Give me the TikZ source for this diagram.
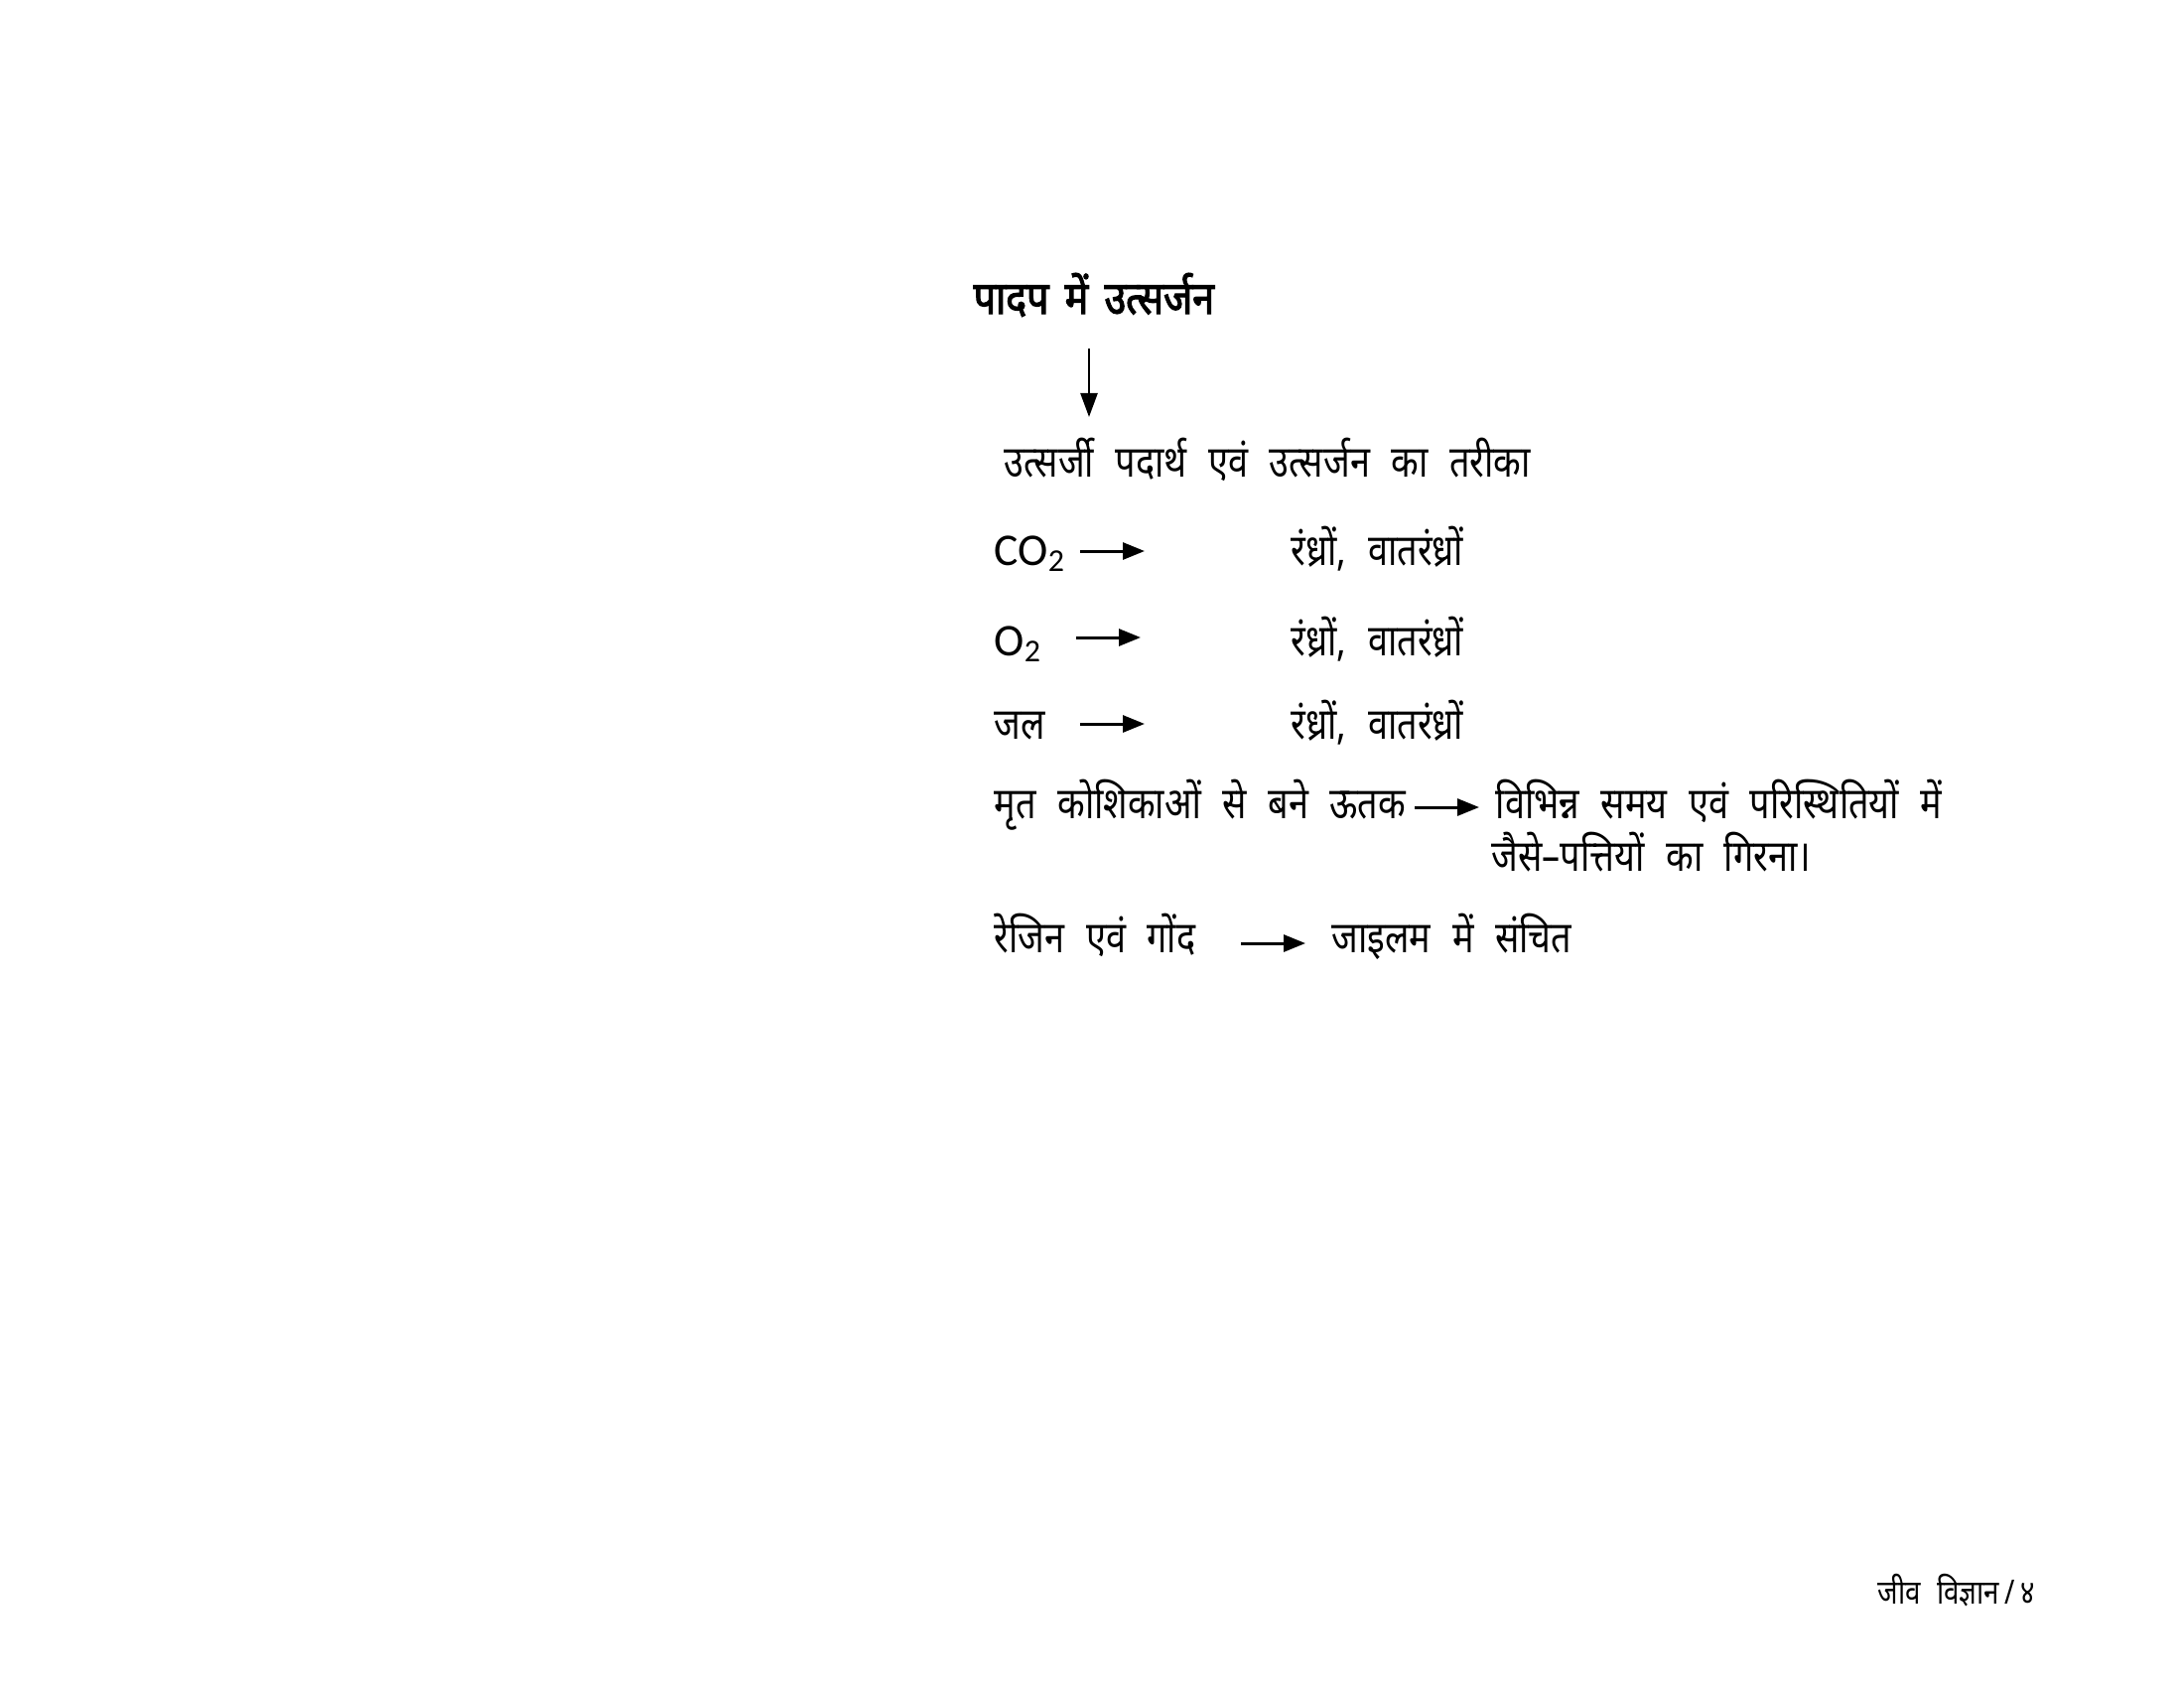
\documentclass[tikz,border=0pt]{standalone}
\usepackage{fontspec}
\usetikzlibrary{arrows.meta}
\newfontfamily\hindi[Script=Devanagari,FakeStretch=0.82,WordSpace=2.3]{Noto Sans}
\newfontfamily\hindib[Script=Devanagari,FakeStretch=0.86,FakeBold=2.5,WordSpace=1.6]{Noto Sans}
\newfontfamily\latinf{Carlito}
\begin{document}
\begin{tikzpicture}[x=0.01cm,y=-0.01cm,
  txt/.style={anchor=base west,inner sep=0pt,font=\hindi\fontsize{12.5pt}{15pt}\selectfont},
  ttl/.style={anchor=base west,inner sep=0pt,font=\hindib\fontsize{13pt}{15pt}\selectfont},
  lat/.style={anchor=base west,inner sep=0pt,font=\latinf\fontsize{13pt}{15pt}\selectfont},
  arr/.style={line width=0.3mm,-{Triangle[length=2.2mm,width=1.7mm]}},
  varr/.style={line width=0.25mm,-{Triangle[length=2.4mm,width=1.7mm]}}]
\useasboundingbox (0,0) rectangle (2200,1700);
\node[ttl] (title) at (980,316) {पादप में उत्सर्जन};
\coordinate (va) at (1097,351);
\coordinate (vb) at (1097,420);
\draw[varr] (va) -- (vb);
\node[txt] (sub) at (1011,480) {उत्सर्जी पदार्थ एवं उत्सर्जन का तरीका};
% row 1
\node[lat] (co2) at (1001,569) {CO\textsubscript{2}};
\coordinate (a1s) at (1088,555);
\coordinate (a1e) at (1153,555);
\draw[arr] (a1s) -- (a1e);
\node[txt] (r1) at (1300,569) {रंध्रों, वातरंध्रों};
% row 2
\node[lat] (o2) at (1001,660) {O\textsubscript{2}};
\coordinate (a2s) at (1084,642);
\coordinate (a2e) at (1149,642);
\draw[arr] (a2s) -- (a2e);
\node[txt] (r2) at (1300,660) {रंध्रों, वातरंध्रों};
% row 3
\node[txt] (jal) at (1001,744) {जल};
\coordinate (a3s) at (1088,729);
\coordinate (a3e) at (1153,729);
\draw[arr] (a3s) -- (a3e);
\node[txt] (r3) at (1300,744) {रंध्रों, वातरंध्रों};
% row 4
\node[txt] (mrit) at (1001,824) {मृत कोशिकाओं से बने ऊतक};
\coordinate (a4s) at (1425,813);
\coordinate (a4e) at (1490,813);
\draw[arr] (a4s) -- (a4e);
\node[txt] (vib) at (1506,824) {विभिन्न समय एवं परिस्थितियों में};
\node[txt] (jaise) at (1502,877) {जैसे–पत्तियों का गिरना।};
% row 5
\node[txt] (resin) at (1001,959) {रेजिन एवं गोंद};
\coordinate (a5s) at (1250,950);
\coordinate (a5e) at (1315,950);
\draw[arr] (a5s) -- (a5e);
\node[txt] (xyl) at (1341,959) {जाइलम में संचित};
% footer
\node[anchor=base west,inner sep=0pt,font=\hindi\fontsize{9.6pt}{12pt}\selectfont] (foot) at (1891,1615) {जीव विज्ञान\,/\,४};
\end{tikzpicture}
\end{document}
